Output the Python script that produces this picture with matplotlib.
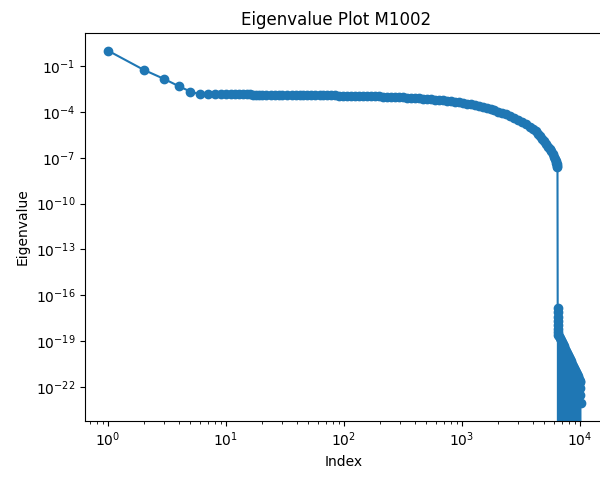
import matplotlib
matplotlib.use('Agg')
import matplotlib.pyplot as plt
import numpy as np

# Leading eigenvalues
head_idx = [1, 2, 3, 4, 5]
head_vals = [1.01, 5.7e-2, 1.4e-2, 4.7e-3, 2.1e-3]

# Slowly decaying bulk of the spectrum
bulk_idx = [6, 7, 8, 9, 10, 11, 12, 13, 14, 15, 16, 17, 18, 19, 20, 22, 24, 26, 28, 30,
            33, 36, 39, 42, 45, 49, 53, 57, 62, 67, 72, 78, 84, 91, 98, 106, 115, 124,
            134, 145, 157, 170, 184, 199, 215, 232, 251, 271, 293, 317, 342, 370, 400,
            432, 467, 505, 546, 590, 637, 689, 744, 804, 869, 939, 1015, 1097, 1185,
            1280, 1383, 1494, 1614, 1744, 1884, 2035, 2199, 2375, 2566, 2772, 2995,
            3235, 3495, 3775, 4000, 4200, 4400, 4600, 4800, 5000, 5200, 5400, 5550,
            5700, 5850, 6000, 6100, 6200, 6280, 6350, 6400, 6444]
bulk_vals = [1.40e-3, 1.40e-3, 1.39e-3, 1.39e-3, 1.39e-3, 1.38e-3, 1.38e-3, 1.37e-3,
             1.37e-3, 1.37e-3, 1.37e-3, 1.36e-3, 1.36e-3, 1.36e-3, 1.36e-3, 1.35e-3,
             1.35e-3, 1.35e-3, 1.35e-3, 1.35e-3, 1.34e-3, 1.33e-3, 1.32e-3, 1.31e-3,
             1.30e-3, 1.29e-3, 1.27e-3, 1.25e-3, 1.23e-3, 1.21e-3, 1.20e-3, 1.195e-3,
             1.18e-3, 1.16e-3, 1.14e-3, 1.125e-3, 1.116e-3, 1.10e-3, 1.083e-3, 1.067e-3,
             1.051e-3, 1.043e-3, 1.027e-3, 1.012e-3, 9.89e-4, 9.67e-4, 9.45e-4, 9.24e-4,
             9.04e-4, 8.70e-4, 8.44e-4, 8.13e-4, 7.83e-4, 7.54e-4, 7.20e-4, 6.88e-4,
             6.53e-4, 6.24e-4, 5.92e-4, 5.53e-4, 5.16e-4, 4.83e-4, 4.51e-4, 4.21e-4,
             3.88e-4, 3.51e-4, 3.16e-4, 2.84e-4, 2.45e-4, 2.10e-4, 1.81e-4, 1.55e-4,
             1.30e-4, 1.05e-4, 8.62e-5, 6.87e-5, 5.31e-5, 4.11e-5, 3.09e-5, 2.28e-5,
             1.56e-5, 1.04e-5, 7.12e-6, 5.27e-6, 3.56e-6, 2.51e-6, 1.70e-6, 1.20e-6,
             7.73e-7, 5.14e-7, 3.69e-7, 2.57e-7, 1.73e-7, 1.15e-7, 8.51e-8, 5.84e-8,
             4.31e-8, 3.70e-8, 2.96e-8, 2.36e-8]

# Numerically-zero tail (negative values fall off the log axis)
tail_idx = [6460, 6466, 6472, 6478, 6484, 6490, 6496,
            6509, 6540, 6580, 6637, 6700, 6768, 6830, 6901, 6970, 7037, 7100, 7176,
            7250, 7318, 7390, 7462, 7530, 7609, 7680, 7759, 7830, 7912, 7990, 8068,
            8150, 8227, 8310, 8389, 8470, 8555, 8640, 8723, 8810, 8895, 8980, 9070,
            9160, 9249, 9340, 9431, 9520, 9617, 9710, 9807, 9900, 10000, 10040, 10070,
            10080, 10090, 10100]
tail_vals = [1.55e-17, 7.9e-18, 4.0e-18, 2.0e-18, 1.12e-18, 6.3e-19, 4.0e-19,
             -2.0e-20, 2.4e-19, -1.0e-20, 2.2e-19, -4e-21, 1.66e-19, -6e-21, 1.23e-19,
             -3e-21, 8.7e-20, -5e-21, 6.2e-20, -2e-21, 4.5e-20, -4e-21, 3.2e-20, -3e-21,
             2.3e-20, -2e-21, 1.7e-20, -3e-21, 1.23e-20, -2e-21, 8.9e-21, -1e-21, 6.5e-21,
             -2e-21, 4.7e-21, -1e-21, 3.4e-21, -2e-21, 2.5e-21, -1e-21, 1.78e-21, -1e-21,
             1.29e-21, -8e-22, 9.3e-22, -6e-22, 6.8e-22, -5e-22, 4.9e-22, -4e-22, 3.5e-22,
             -3e-22, 2.6e-22, -2e-22, 2.1e-22, 9e-23, 3e-23, 8.5e-24]


def main():
    idx = np.array(head_idx + bulk_idx + tail_idx)
    vals = np.array(head_vals + bulk_vals + tail_vals)

    fig = plt.figure(figsize=(6.0, 4.79), dpi=100)
    # the original screenshot is cropped on the right, so the axes run past the edge
    left, width = 85 / 600, 535 / 600
    ax = fig.add_axes([left, 0.1211, width, 0.81])
    ax.plot(idx, vals, 'o-')
    ax.set_xscale('log')
    ax.set_yscale('log')
    # one decade = 118 px, 10^0 at x = 108 px
    ax.set_xlim(10 ** (-23 / 118), 10 ** ((85 + 535 - 108) / 118))
    ax.spines['right'].set_visible(False)
    ax.set_title('Eigenvalue Plot M1002', x=(336 - 85) / 535)
    ax.set_xlabel('Index', x=(343.5 - 85) / 535)
    ax.set_ylabel('Eigenvalue')
    fig.savefig('out.png', dpi=100)


if __name__ == "__main__":
    main()
